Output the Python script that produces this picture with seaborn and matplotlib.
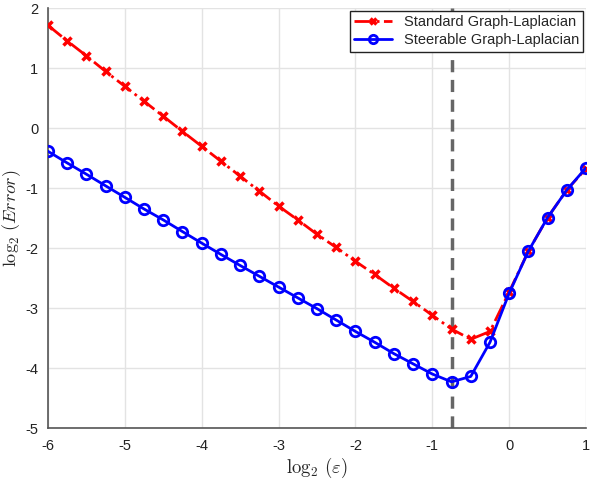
import numpy as np
import pandas as pd
import matplotlib
matplotlib.use("Agg")
import matplotlib.pyplot as plt
import seaborn as sns

# log2(epsilon) grid
log_eps = [-6.0, -5.75, -5.5, -5.25, -5.0, -4.75, -4.5, -4.25, -4.0, -3.75,
           -3.5, -3.25, -3.0, -2.75, -2.5, -2.25, -2.0, -1.75, -1.5, -1.25,
           -1.0, -0.75, -0.5, -0.25, 0.0, 0.25, 0.5, 0.75, 1.0]

standard_err = [1.715, 1.454, 1.206, 0.945, 0.697, 0.448, 0.199, -0.055, -0.303, -0.552,
                -0.801, -1.05, -1.30, -1.53, -1.77, -1.99, -2.22, -2.44, -2.67, -2.89,
                -3.12, -3.35, -3.52, -3.39, -2.73, -2.05, -1.49, -1.03, -0.673]

steerable_err = [-0.386, -0.58, -0.768, -0.962, -1.154, -1.348, -1.53, -1.725, -1.917, -2.106,
                 -2.29, -2.47, -2.65, -2.83, -3.01, -3.20, -3.39, -3.57, -3.76, -3.93,
                 -4.10, -4.23, -4.14, -3.57, -2.75, -2.05, -1.49, -1.03, -0.66]

opt_eps = -0.75
series_names = ["Standard Graph-Laplacian", "Steerable Graph-Laplacian"]

df = pd.DataFrame({"log_eps": log_eps, "standard": standard_err, "steerable": steerable_err})

sns.set_style("whitegrid")
plt.rcParams['font.family'] = ['Liberation Sans', 'DejaVu Sans']
plt.rcParams['mathtext.fontset'] = 'cm'
plt.rcParams['axes.unicode_minus'] = False

fig = plt.figure(figsize=(5.92, 4.82), dpi=100)
ax = fig.add_axes([0.081, 0.112, 0.909, 0.871])

ax.axvline(opt_eps, color='#666666', linestyle=(0, (3.5, 2.2)), linewidth=2.5, zorder=1)

sns.lineplot(x='log_eps', y='standard', data=df, ax=ax, color='red', linestyle='-.',
             linewidth=2, marker='x', markersize=5.5, markeredgewidth=2.5,
             markeredgecolor='red', label=series_names[0], zorder=3)
sns.lineplot(x='log_eps', y='steerable', data=df, ax=ax, color='blue', linestyle='-',
             linewidth=2, marker='o', markersize=7.5, markeredgewidth=2,
             markerfacecolor='none', markeredgecolor='blue', label=series_names[1], zorder=4)

ax.set_xlim(-6, 1)
ax.set_ylim(-5, 2)
ax.set_xticks(range(-6, 2))
ax.set_yticks(range(-5, 3))
ax.grid(True, color='#e3e3e3', linewidth=1)
for s in ['top', 'right']:
    ax.spines[s].set_visible(False)
for s in ['left', 'bottom']:
    ax.spines[s].set_color('#555555')
    ax.spines[s].set_linewidth(1.2)
ax.tick_params(direction='in', length=4, color='#555555', labelsize=10.5, labelcolor='#222222')
ax.tick_params(axis='x', pad=8)
ax.tick_params(axis='y', pad=7)

ax.set_xlabel(r'$\log_2\,(\varepsilon)$', fontsize=13.5, labelpad=2)
ax.set_ylabel(r'$\log_2\,(Error)$', fontsize=13, labelpad=0)
ax.yaxis.set_label_coords(-0.046, 0.5)

leg = ax.legend(loc='upper right', fontsize=10.5, frameon=True, fancybox=False,
                edgecolor='#222222', framealpha=1, borderaxespad=0.2,
                handlelength=2.6, borderpad=0.3, labelspacing=0.25, markerscale=0.8)
leg.get_frame().set_linewidth(1)

plt.savefig("out.png", dpi=100)
